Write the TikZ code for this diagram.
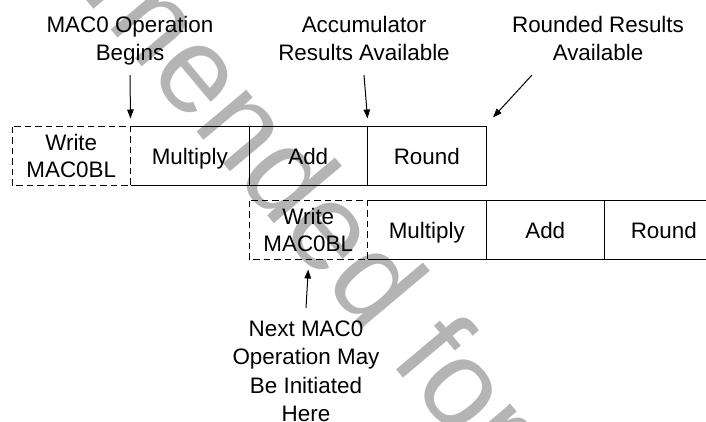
\documentclass[tikz,border=0pt]{standalone}
\usepackage{fontspec}
\setmainfont{Liberation Sans}
\usetikzlibrary{positioning,arrows.meta}
\definecolor{wmgray}{RGB}{180,180,180}
\begin{document}
\begin{tikzpicture}[x=1pt,y=-1pt,line width=1pt,
  stagebox/.style={minimum width=117.5pt,minimum height=58pt,inner sep=0pt,align=center,font=\fontsize{22.4}{26.5}\selectfont},
  onebox/.style={stagebox,text height=16.2pt,text depth=0pt},
  lbl/.style={anchor=north,inner sep=0pt,align=center,font=\fontsize{22.4}{27.5}\selectfont},
  arr/.style={-{Triangle[length=9pt,width=6.5pt]}},
  wmark/.style={text=wmgray,inner sep=0pt,font=\fontsize{123}{123}\selectfont}]
\useasboundingbox (0,0) rectangle (706,421);
\clip (0,0) rectangle (706,421);
\node[wmark,rotate=-50,anchor=base] (wm) at (328,288) {Not Recommended for New Designs};
% first operation
\node[stagebox,anchor=west] (w1) at (12,156) {Write\\MAC0BL};
\node[onebox,right=0pt of w1] (m1) {Multiply};
\node[onebox,right=0pt of m1] (a1) {Add};
\node[onebox,right=0pt of a1] (r1) {Round};
% next operation
\node[stagebox,anchor=north west] (w2) at ([yshift=-15pt]a1.south west) {Write\\MAC0BL};
\node[onebox,right=0pt of w2] (m2) {Multiply};
\node[onebox,right=0pt of m2] (a2) {Add};
\node[onebox,right=0pt of a2] (r2) {Round};
\foreach \r in {1,2} {
  \draw[dash pattern=on 6.5pt off 4pt] (w\r.north west) rectangle (w\r.south east);
  \draw (m\r.north west) -- (r\r.north east) -- (r\r.south east) -- (m\r.south west);
  \draw (a\r.north west) -- (a\r.south west) (r\r.north west) -- (r\r.south west);
}
\node[lbl] (lbegin) at (130,16) {MAC0 Operation\\Begins};
\node[lbl] (lacc) at (364,16) {Accumulator\\Results Available};
\node[lbl] (lround) at (598,16) {Rounded Results\\Available};
\node[lbl,font=\fontsize{22.4}{28.5}\selectfont] (lnext) at (306,320) {Next MAC0\\Operation May\\Be Initiated\\Here};
\coordinate (fbegin) at (130,75);
\coordinate (tbegin) at ([yshift=8pt]m1.north west);
\coordinate (facc) at (364,75);
\coordinate (tacc) at ([yshift=8pt]r1.north west);
\coordinate (fround) at (532,75);
\coordinate (tround) at ([xshift=7pt,yshift=9pt]r1.north east);
\coordinate (fnext) at (306,308);
\coordinate (tnext) at ([yshift=-10pt]w2.south);
\draw[arr] (fbegin) -- (tbegin);
\draw[arr] (facc) -- (tacc);
\draw[arr] (fround) -- (tround);
\draw[arr] (fnext) -- (tnext);
\end{tikzpicture}
\end{document}
